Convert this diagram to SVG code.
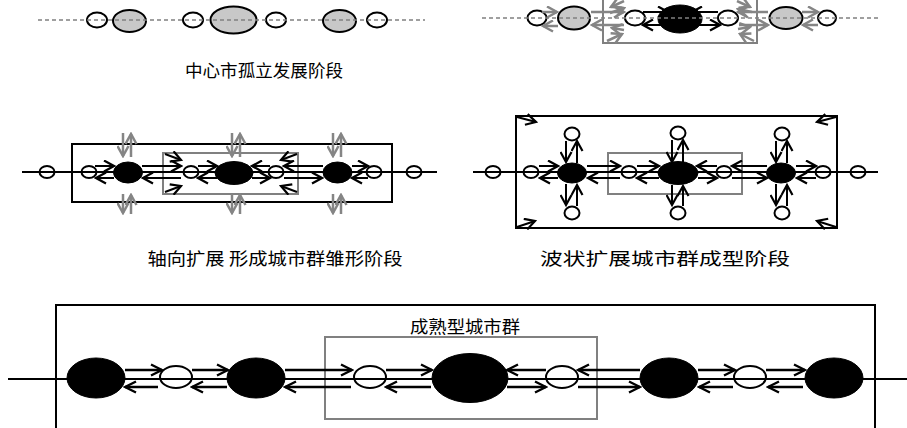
<svg xmlns="http://www.w3.org/2000/svg" width="907" height="428" viewBox="0 0 907 428">
<style>
.bg{fill:#fff}
.sc{fill:none;stroke:#000;stroke-width:2}
.wc{fill:#fff;stroke:#000;stroke-width:2}
.ge{fill:#c8c8c8;stroke:#000;stroke-width:2}
.be{fill:#000;stroke:#000;stroke-width:1}
.dash{stroke:#808080;stroke-width:1.3;stroke-dasharray:4,3;fill:none}
.axis{stroke:#000;stroke-width:2;fill:none}
.box{fill:none;stroke:#000;stroke-width:2}
.gbox{fill:none;stroke:#808080;stroke-width:2}
.ar{fill:none;stroke:#000;stroke-width:2;marker-end:url(#a)}
.ar5{fill:none;stroke:#000;stroke-width:2.4;marker-end:url(#a5)}
.ag{fill:none;stroke:#858585;stroke-width:2.5;marker-end:url(#g)}
.lbl{font-family:"Noto Sans CJK SC","Noto Sans",sans-serif;font-size:17.5px;fill:#000;text-anchor:middle}
</style>
<defs>
<marker id="a" viewBox="0 0 13 13" markerWidth="13" markerHeight="13" refX="11" refY="6.5" orient="auto" markerUnits="userSpaceOnUse"><path d="M1,1 L11,6.5 L1,12" fill="none" stroke="#000" stroke-width="2.2"/></marker>
<marker id="a5" viewBox="0 0 14 14" markerWidth="14" markerHeight="14" refX="12" refY="7" orient="auto" markerUnits="userSpaceOnUse"><path d="M1,1.5 L12,7 L1,12.5" fill="none" stroke="#000" stroke-width="2.4"/></marker>
<marker id="g" viewBox="0 0 13 13" markerWidth="13" markerHeight="13" refX="11" refY="6.5" orient="auto" markerUnits="userSpaceOnUse"><path d="M1,1 L11,6.5 L1,12" fill="none" stroke="#858585" stroke-width="2.5"/></marker>
</defs>
<rect class="bg" x="0" y="0" width="907" height="428"/>

<!-- Panel 1 -->
<g id="p1-c1"><ellipse class="wc" cx="97" cy="20" rx="10" ry="7.5"/></g>
<g id="p1-g1"><ellipse class="ge" cx="129.5" cy="21" rx="16.5" ry="11"/></g>
<g id="p1-c2"><ellipse class="wc" cx="193" cy="20" rx="10" ry="7.5"/></g>
<g id="p1-g2"><ellipse class="ge" cx="233.5" cy="20" rx="23" ry="13.5"/></g>
<g id="p1-c3"><ellipse class="wc" cx="276" cy="20" rx="10" ry="7.5"/></g>
<g id="p1-g3"><ellipse class="ge" cx="339.5" cy="21" rx="16.5" ry="11"/></g>
<g id="p1-c4"><ellipse class="wc" cx="377" cy="20" rx="10" ry="7.5"/></g>
<text class="lbl" x="264" y="77" textLength="158" lengthAdjust="spacingAndGlyphs">中心市孤立发展阶段</text>

<!-- Panel 2 -->
<g id="p2-box"><rect class="gbox" x="603" y="-5" width="154" height="48" stroke-width="2.5"/></g>
<g id="p2-c1"><ellipse class="wc" cx="537" cy="18" rx="9.5" ry="7.5"/></g>
<g id="p2-g1"><ellipse class="ge" cx="574" cy="18" rx="16" ry="11.5"/></g>
<g id="p2-c2"><ellipse class="wc" cx="635" cy="18" rx="10" ry="7.5"/></g>
<g id="p2-c3"><ellipse class="wc" cx="728" cy="18" rx="10" ry="7.5"/></g>
<g id="p2-g2"><ellipse class="ge" cx="786" cy="18" rx="16.5" ry="11"/></g>
<g id="p2-c4"><ellipse class="wc" cx="827" cy="18" rx="9" ry="7.5"/></g>

<!-- Panel 3 -->
<g id="p3-outer"><rect class="box" x="72" y="144" width="320" height="58"/></g>
<g id="p3-inner"><rect class="gbox" x="163" y="153" width="135" height="41"/></g>
<g id="p3-c1"><ellipse class="sc" cx="47" cy="172" rx="7.5" ry="6"/></g>
<g id="p3-c2"><ellipse class="sc" cx="89" cy="172" rx="7.5" ry="6"/></g>
<g id="p3-c3"><ellipse class="sc" cx="191" cy="172" rx="7.5" ry="6"/></g>
<g id="p3-c4"><ellipse class="sc" cx="276" cy="172" rx="7.5" ry="6"/></g>
<g id="p3-c5"><ellipse class="sc" cx="374" cy="172" rx="7.5" ry="6"/></g>
<g id="p3-c6"><ellipse class="sc" cx="414" cy="172" rx="7.5" ry="6"/></g>
<text class="lbl" x="275" y="265" textLength="255" lengthAdjust="spacingAndGlyphs">轴向扩展 形成城市群雏形阶段</text>

<!-- Panel 4 -->
<g id="p4-outer"><rect class="box" x="516" y="116" width="321" height="112"/></g>
<g id="p4-inner"><rect class="gbox" x="608" y="153" width="134" height="41"/></g>
<g id="p4-c1"><ellipse class="sc" cx="493" cy="172" rx="7.5" ry="6"/></g>
<g id="p4-c2"><ellipse class="sc" cx="531" cy="172" rx="7.5" ry="6"/></g>
<g id="p4-c3"><ellipse class="sc" cx="629" cy="172" rx="7.5" ry="6"/></g>
<g id="p4-c4"><ellipse class="sc" cx="724" cy="172" rx="7.5" ry="6"/></g>
<g id="p4-c5"><ellipse class="sc" cx="823" cy="172" rx="7.5" ry="6"/></g>
<g id="p4-c6"><ellipse class="sc" cx="858" cy="172" rx="7.5" ry="6"/></g>
<g id="p4-u1"><ellipse class="wc" cx="572" cy="134" rx="7.5" ry="6.5"/></g>
<g id="p4-d1"><ellipse class="wc" cx="572" cy="213" rx="7.5" ry="6.5"/></g>
<g id="p4-u2"><ellipse class="wc" cx="678" cy="133" rx="7.5" ry="6.5"/></g>
<g id="p4-d2"><ellipse class="wc" cx="678" cy="213" rx="7.5" ry="6.5"/></g>
<g id="p4-u3"><ellipse class="wc" cx="782" cy="134" rx="7.5" ry="6.5"/></g>
<g id="p4-d3"><ellipse class="wc" cx="782" cy="213" rx="7.5" ry="6.5"/></g>
<text class="lbl" x="665" y="265" textLength="250" lengthAdjust="spacingAndGlyphs">波状扩展城市群成型阶段</text>

<!-- Panel 5 -->
<g id="p5-outer"><rect class="box" x="56" y="305" width="819" height="140"/></g>
<g id="p5-inner"><rect class="gbox" x="325" y="337" width="272" height="82"/></g>
<g id="p5-c1"><ellipse class="sc" cx="176" cy="377" rx="16" ry="11"/></g>
<g id="p5-c2"><ellipse class="sc" cx="370" cy="377" rx="16" ry="11"/></g>
<g id="p5-c3"><ellipse class="sc" cx="562" cy="377" rx="16" ry="11"/></g>
<g id="p5-c4"><ellipse class="sc" cx="750" cy="377" rx="16" ry="11"/></g>
<text class="lbl" x="465" y="333" textLength="110" lengthAdjust="spacingAndGlyphs">成熟型城市群</text>

<!-- Connectors -->
<g id="connectors">
<path class="axis" d="M22 172H437M473 172H878M8 379H907"/>
<!-- panel 2 gray -->
<path class="ag" d="M542 12H557"/><path class="ag" d="M558 26H543"/>
<path class="ag" d="M591 12H624"/><path class="ag" d="M624 25H592"/>
<path class="ag" d="M768 12H738"/><path class="ag" d="M739 25H768"/>
<path class="ag" d="M802 12H818"/><path class="ag" d="M818 25H803"/>
<path class="ag" d="M624 1L611 7"/><path class="ag" d="M610 13L624 8"/>
<path class="ag" d="M607 41L622 34"/><path class="ag" d="M624 30L612 28"/>
<path class="ag" d="M737 1L750 7"/><path class="ag" d="M752 12L738 9"/>
<path class="ag" d="M754 41L740 34"/><path class="ag" d="M738 29L750 27"/>
<!-- panel 2 black -->
<path class="ar" d="M643 12H668"/><path class="ar" d="M718 12H692"/>
<path class="ar" d="M680 25H643"/><path class="ar" d="M680 25H720"/>
<!-- panel 3 -->
<path class="ar" d="M95 166H114"/><path class="ar" d="M114 178H96"/>
<path class="ar" d="M142 166H181"/><path class="ar" d="M181 178H143"/>
<path class="ar" d="M198 166H217"/><path class="ar" d="M217 178H198"/>
<path class="ar" d="M270 166H252"/><path class="ar" d="M252 178H270"/>
<path class="ar" d="M323 166H284"/><path class="ar" d="M284 178H322"/>
<path class="ar" d="M352 166H368"/><path class="ar" d="M368 178H352"/>
<path class="ar" d="M165 154L181 160"/><path class="ar" d="M165 192L181 186"/>
<path class="ar" d="M297 154L281 160"/><path class="ar" d="M297 192L281 186"/>
<path class="ag" d="M123 133V156"/><path class="ag" d="M131 157V134"/>
<path class="ag" d="M232 133V156"/><path class="ag" d="M240 157V134"/>
<path class="ag" d="M333 133V156"/><path class="ag" d="M341 157V134"/>
<path class="ag" d="M123 194V213"/><path class="ag" d="M131 214V195"/>
<path class="ag" d="M232 194V213"/><path class="ag" d="M240 214V195"/>
<path class="ag" d="M333 194V213"/><path class="ag" d="M341 214V195"/>
<!-- panel 4 -->
<path class="ar" d="M539 166H558"/><path class="ar" d="M558 178H540"/>
<path class="ar" d="M587 166H620"/><path class="ar" d="M620 178H588"/>
<path class="ar" d="M637 166H659"/><path class="ar" d="M659 178H637"/>
<path class="ar" d="M717 166H697"/><path class="ar" d="M698 178H717"/>
<path class="ar" d="M767 166H732"/><path class="ar" d="M732 178H767"/>
<path class="ar" d="M796 166H816"/><path class="ar" d="M816 178H797"/>
<path class="ar" d="M566 141V162"/><path class="ar" d="M577 163V141"/>
<path class="ar" d="M672 140V162"/><path class="ar" d="M683 163V140"/>
<path class="ar" d="M776 141V162"/><path class="ar" d="M787 163V141"/>
<path class="ar" d="M566 184V205"/><path class="ar" d="M577 206V185"/>
<path class="ar" d="M672 185V205"/><path class="ar" d="M683 206V186"/>
<path class="ar" d="M776 184V205"/><path class="ar" d="M787 206V185"/>
<path class="ar" d="M517 117L536 122"/><path class="ar" d="M836 117L817 122"/>
<path class="ar" d="M517 227L535 221"/><path class="ar" d="M836 227L817 221"/>
<!-- panel 5 -->
<path class="ar5" d="M125 370H162"/><path class="ar5" d="M158 387H125"/>
<path class="ar5" d="M192 370H228"/><path class="ar5" d="M227 387H192"/>
<path class="ar5" d="M285 370H352"/><path class="ar5" d="M351 387H285"/>
<path class="ar5" d="M386 370H432"/><path class="ar5" d="M431 387H386"/>
<path class="ar5" d="M546 370H507"/><path class="ar5" d="M507 387H546"/>
<path class="ar5" d="M640 370H578"/><path class="ar5" d="M578 387H640"/>
<path class="ar5" d="M698 370H735"/><path class="ar5" d="M733 387H699"/>
<path class="ar5" d="M766 370H805"/><path class="ar5" d="M803 387H768"/>
</g>

<!-- black nodes on top -->
<g id="p2-b1"><ellipse class="be" cx="680" cy="19" rx="22" ry="14"/></g>
<g id="p3-b1"><ellipse class="be" cx="128" cy="172.5" rx="14.5" ry="10.5"/></g>
<g id="p3-b2"><ellipse class="be" cx="234" cy="173" rx="19" ry="11.5"/></g>
<g id="p3-b3"><ellipse class="be" cx="337.5" cy="172.5" rx="14.5" ry="10.5"/></g>
<g id="p4-b1"><ellipse class="be" cx="572" cy="173" rx="14.5" ry="10"/></g>
<g id="p4-b2"><ellipse class="be" cx="678" cy="173" rx="20" ry="11.5"/></g>
<g id="p4-b3"><ellipse class="be" cx="781" cy="173" rx="14.5" ry="10"/></g>
<g id="p5-b1"><ellipse class="be" cx="96" cy="378" rx="29" ry="20"/></g>
<g id="p5-b2"><ellipse class="be" cx="256" cy="378" rx="29" ry="20"/></g>
<g id="p5-b3"><ellipse class="be" cx="470" cy="378" rx="38" ry="24.5"/></g>
<g id="p5-b4"><ellipse class="be" cx="669" cy="378" rx="29" ry="20"/></g>
<g id="p5-b5"><ellipse class="be" cx="834" cy="378" rx="29" ry="20"/></g>

<!-- dashed axes on top -->
<path class="dash" d="M38 20H425M482 18H880"/>
</svg>
